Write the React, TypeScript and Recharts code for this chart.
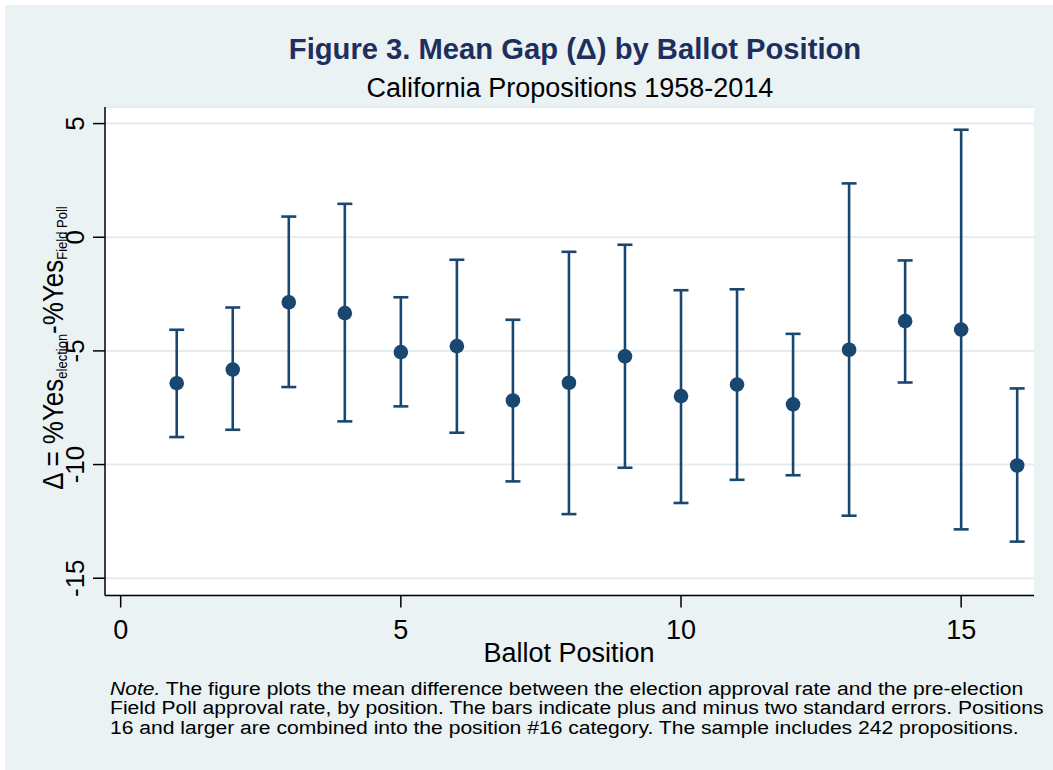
import React from "react";
import { ScatterChart, Scatter, XAxis, YAxis, CartesianGrid, ErrorBar } from "recharts";

const positions = [1, 2, 3, 4, 5, 6, 7, 8, 9, 10, 11, 12, 13, 14, 15, 16];
const means = [-6.42, -5.82, -2.86, -3.34, -5.05, -4.79, -7.18, -6.4, -5.24, -6.99, -6.48, -7.35, -4.95, -3.69, -4.06, -10.04];
const upper = [-4.07, -3.09, 0.91, 1.47, -2.64, -0.99, -3.63, -0.64, -0.33, -2.33, -2.29, -4.25, 2.37, -1.02, 4.73, -6.65];
const lower = [-8.79, -8.47, -6.59, -8.1, -7.44, -8.6, -10.74, -12.18, -10.14, -11.69, -10.67, -10.47, -12.25, -6.39, -12.85, -13.39];
const xTicks = [0, 5, 10, 15];
const yTicks = [-15, -10, -5, 0, 5];

const title = "Figure 3. Mean Gap (\u0394) by Ballot Position";
const subtitle = "California Propositions 1958-2014";
const xLabel = "Ballot Position";
const noteLines = [
  "The figure plots the mean difference between the election approval rate and the pre-election",
  "Field Poll approval rate, by position. The bars indicate plus and minus two standard errors. Positions",
  "16 and larger are combined into the position #16 category. The sample includes 242 propositions.",
];

const data = positions.map((p, i) => ({
  x: p,
  y: means[i],
  err: [means[i] - lower[i], upper[i] - means[i]],
}));

const FONT = "'Liberation Sans', Arial, Helvetica, sans-serif";
const NAVY = "#1a476f";

const YTick = (props: any) => {
  const { x, y, payload } = props;
  return (
    <text
      x={x}
      y={y}
      transform={`rotate(-90, ${x}, ${y})`}
      textAnchor="middle"
      fontSize={26}
      fontFamily={FONT}
      fill="#000"
    >
      {payload.value}
    </text>
  );
};

const XTick = (props: any) => {
  const { x, y, payload } = props;
  return (
    <text x={x} y={y} dy={19} textAnchor="middle" fontSize={27} fontFamily={FONT} fill="#000">
      {payload.value}
    </text>
  );
};

const Dot = (props: any) => {
  const { cx, cy } = props;
  return <circle cx={cx} cy={cy} r={7.3} fill={NAVY} />;
};

export default function App() {
  return (
    <div style={{ position: "absolute", left: 0, top: 0, width: 1053, height: 770, background: "#fff", overflow: "hidden" }}>
      <div style={{ position: "absolute", left: 5, top: 5, width: 1048, height: 765, background: "#EAF2F3" }} />
      <div style={{ position: "absolute", left: 0, top: 0 }}>
        <ScatterChart
          width={1053}
          height={770}
          margin={{ top: 107, right: 19, bottom: 104.5, left: 25 }}
        >
          <CartesianGrid
            horizontal={true}
            vertical={false}
            fill="#ffffff"
            stroke="#E3ECEF"
            strokeWidth={2}
          />
          <XAxis
            type="number"
            dataKey="x"
            domain={[-0.28, 16.3]}
            ticks={xTicks}
            allowDataOverflow
            height={70}
            tickSize={12}
            tickMargin={12}
            tick={<XTick />}
            axisLine={{ stroke: "#000", strokeWidth: 1.5 }}
            tickLine={{ stroke: "#000", strokeWidth: 1.5 }}
          />
          <YAxis
            type="number"
            dataKey="y"
            domain={[-15.76, 5.73]}
            ticks={yTicks}
            allowDataOverflow
            width={80}
            tickSize={12}
            tickMargin={9}
            tick={<YTick />}
            axisLine={{ stroke: "#000", strokeWidth: 1.5 }}
            tickLine={{ stroke: "#000", strokeWidth: 1.5 }}
          />
          <Scatter data={data} dataKey="y" fill={NAVY} shape={<Dot />} isAnimationActive={false}>
            <ErrorBar dataKey="err" direction="y" width={7.5} stroke={NAVY} strokeWidth={2.6} isAnimationActive={false} />
          </Scatter>
        </ScatterChart>
      </div>
      <svg
        width={1053}
        height={770}
        style={{ position: "absolute", left: 0, top: 0, pointerEvents: "none" }}
      >
        <text x={575} y={59} textAnchor="middle" fontSize={29.2} fontWeight="bold" fontFamily={FONT} fill="#1e2f5e">
          {title}
        </text>
        <text x={570} y={97} textAnchor="middle" fontSize={27} fontFamily={FONT} fill="#000">
          {subtitle}
        </text>
        <g transform="translate(63, 348) scale(1.12, 1) rotate(-90)">
          <text x={0} y={0} textAnchor="middle" fontSize={26} fontFamily={FONT} fill="#000">
            {"\u0394 = %Yes"}
            <tspan fontSize={13} dy={4}>election</tspan>
            <tspan dy={-4}>-%Yes</tspan>
            <tspan fontSize={13} dy={4}>Field Poll</tspan>
          </text>
        </g>
        <text x={569} y={662} textAnchor="middle" fontSize={27} fontFamily={FONT} fill="#000">
          {xLabel}
        </text>
        <g transform="translate(110, 0) scale(1.11, 1)">
          {noteLines.map((line, i) => (
            <text key={i} x={0} y={695 + i * 19.3} fontSize={19} fontFamily={FONT} fill="#000">
              {i === 0 ? <tspan fontStyle="italic">Note.</tspan> : null}
              {i === 0 ? " " + line : line}
            </text>
          ))}
        </g>
      </svg>
    </div>
  );
}
